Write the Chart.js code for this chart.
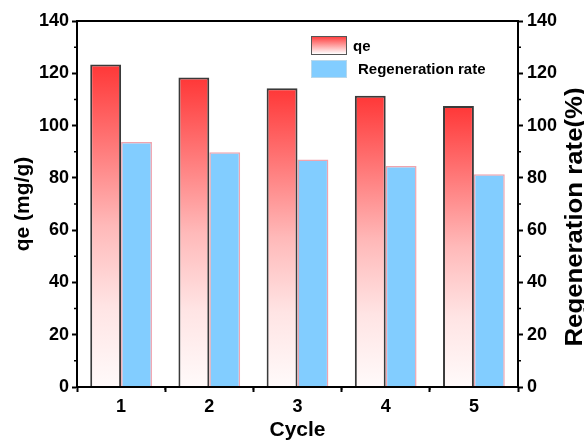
<!DOCTYPE html>
<html>
<head>
<meta charset="utf-8">
<script src="https://cdn.jsdelivr.net/npm/chart.js@4"></script>
<style>
  html, body { margin: 0; padding: 0; background: #fff; }
  #wrap { width: 584px; height: 441px; }
</style>
</head>
<body>
<div id="wrap"><canvas id="chart"></canvas></div>
<script>
const cycles = ["1", "2", "3", "4", "5"];
const qe = [123.4, 118.4, 114.3, 111.4, 107.5];
const regenRate = [93.7, 89.8, 87.0, 84.5, 81.4];
const yTicks = [0, 20, 40, 60, 80, 100, 120, 140];
const rightTitle = "Regeneration rate(%)";

const FONT = "'Liberation Sans', Arial, sans-serif";

// red -> white gradient for each qe bar, from its top down to zero
function redGradient(ctx) {
  const chart = ctx.chart;
  if (!chart.chartArea || ctx.type !== "data") return "#ff4040";
  const y = chart.scales.y;
  const top = y.getPixelForValue(ctx.raw);
  const bottom = y.getPixelForValue(0);
  const g = chart.ctx.createLinearGradient(0, top, 0, bottom);
  g.addColorStop(0, "rgb(255,55,55)");
  g.addColorStop(0.25, "rgb(255,120,120)");
  g.addColorStop(0.5, "rgb(255,185,185)");
  g.addColorStop(0.75, "rgb(255,228,228)");
  g.addColorStop(1, "rgb(255,250,250)");
  return g;
}

// frame, minor ticks, right title (reads bottom-up) and the legend
const extras = {
  id: "extras",
  afterDraw(chart) {
    const { ctx, chartArea: a, scales } = chart;
    ctx.save();
    ctx.strokeStyle = "#000";
    ctx.lineWidth = 2;
    ctx.strokeRect(a.left, a.top, a.right - a.left, a.bottom - a.top);

    ctx.lineWidth = 1.5;
    ctx.beginPath();
    for (let v = 10; v < 140; v += 20) {
      const py = scales.y.getPixelForValue(v);
      ctx.moveTo(a.left - 3, py); ctx.lineTo(a.left, py);
      ctx.moveTo(a.right, py); ctx.lineTo(a.right + 3, py);
    }
    for (let i = 0; i < cycles.length - 1; i++) {
      const px = (scales.x.getPixelForValue(i) + scales.x.getPixelForValue(i + 1)) / 2;
      ctx.moveTo(px, a.bottom); ctx.lineTo(px, a.bottom + 3);
    }
    ctx.stroke();

    // right axis title
    ctx.save();
    ctx.font = "bold 24px " + FONT;
    ctx.fillStyle = "#000";
    ctx.textAlign = "center";
    ctx.textBaseline = "alphabetic";
    const w = ctx.measureText(rightTitle).width;
    ctx.translate(582, 217);
    ctx.rotate(-Math.PI / 2);
    ctx.scale(259 / w, 1);
    ctx.fillText(rightTitle, 0, 0);
    ctx.restore();

    // legend
    const bx = 311, bw = 35, bh = 18;
    const g = ctx.createLinearGradient(0, 36, 0, 36 + bh);
    g.addColorStop(0, "rgb(255,55,55)");
    g.addColorStop(1, "rgb(255,255,255)");
    ctx.fillStyle = g;
    ctx.fillRect(bx, 36, bw, bh);
    ctx.strokeStyle = "#555";
    ctx.lineWidth = 1;
    ctx.strokeRect(bx + 0.5, 36.5, bw, bh);
    ctx.fillStyle = "#82cdff";
    ctx.fillRect(bx, 60, bw, 17);
    ctx.strokeStyle = "#b8d8ec";
    ctx.strokeRect(bx + 0.5, 60.5, bw, 17);

    ctx.fillStyle = "#000";
    ctx.font = "bold 15px " + FONT;
    ctx.textBaseline = "middle";
    ctx.textAlign = "left";
    ctx.fillText(chart.data.datasets[0].label, 353, 47);
    ctx.fillText(chart.data.datasets[1].label, 358, 70);
    ctx.restore();
  }
};

const tickFont = { family: FONT, size: 18, weight: "bold" };

new Chart(document.getElementById("chart"), {
  type: "bar",
  data: {
    labels: cycles,
    datasets: [
      {
        label: "qe",
        data: qe,
        yAxisID: "y",
        backgroundColor: redGradient,
        borderColor: "#3a3a3a",
        borderWidth: 2,
        borderSkipped: "bottom"
      },
      {
        label: "Regeneration rate",
        data: regenRate,
        yAxisID: "y1",
        backgroundColor: "#82cdff",
        borderColor: "#f0a4ae",
        borderWidth: 1.5,
        borderSkipped: "bottom"
      }
    ]
  },
  options: {
    responsive: true,
    maintainAspectRatio: false,
    animation: false,
    categoryPercentage: 0.7,
    barPercentage: 1.0,
    layout: { padding: { top: 21, right: 0, left: 0, bottom: 0 } },
    plugins: {
      legend: { display: false },
      tooltip: { enabled: false }
    },
    scales: {
      x: {
        grid: { drawOnChartArea: false, drawTicks: true, tickLength: 5, tickWidth: 2, color: "#000" },
        border: { display: true, color: "#000", width: 2 },
        ticks: { color: "#000", font: tickFont, padding: 4 },
        title: {
          display: true, text: "Cycle", color: "#000",
          font: { family: FONT, size: 21, weight: "bold", lineHeight: 1 },
          padding: { top: 0, bottom: 0 }
        },
        afterFit(s) { s.height = 54; }
      },
      y: {
        position: "left",
        min: 0, max: 140,
        afterBuildTicks(s) { s.ticks = yTicks.map(v => ({ value: v })); },
        grid: { drawOnChartArea: false, drawTicks: true, tickLength: 5, tickWidth: 2, color: "#000" },
        border: { display: true, color: "#000", width: 2 },
        ticks: { color: "#000", font: tickFont, padding: 3 },
        title: {
          display: true, text: "qe (mg/g)", color: "#000",
          font: { family: FONT, size: 21, weight: "bold", lineHeight: 1 },
          padding: { top: 13, bottom: 0 }
        },
        afterFit(s) { s.width = 77; }
      },
      y1: {
        position: "right",
        min: 0, max: 140,
        afterBuildTicks(s) { s.ticks = yTicks.map(v => ({ value: v })); },
        grid: { drawOnChartArea: false, drawTicks: true, tickLength: 5, tickWidth: 2, color: "#000" },
        border: { display: true, color: "#000", width: 2 },
        ticks: { color: "#000", font: tickFont, padding: 4 },
        title: { display: false },
        afterFit(s) { s.width = 66; }
      }
    }
  },
  plugins: [extras]
});
</script>
</body>
</html>
